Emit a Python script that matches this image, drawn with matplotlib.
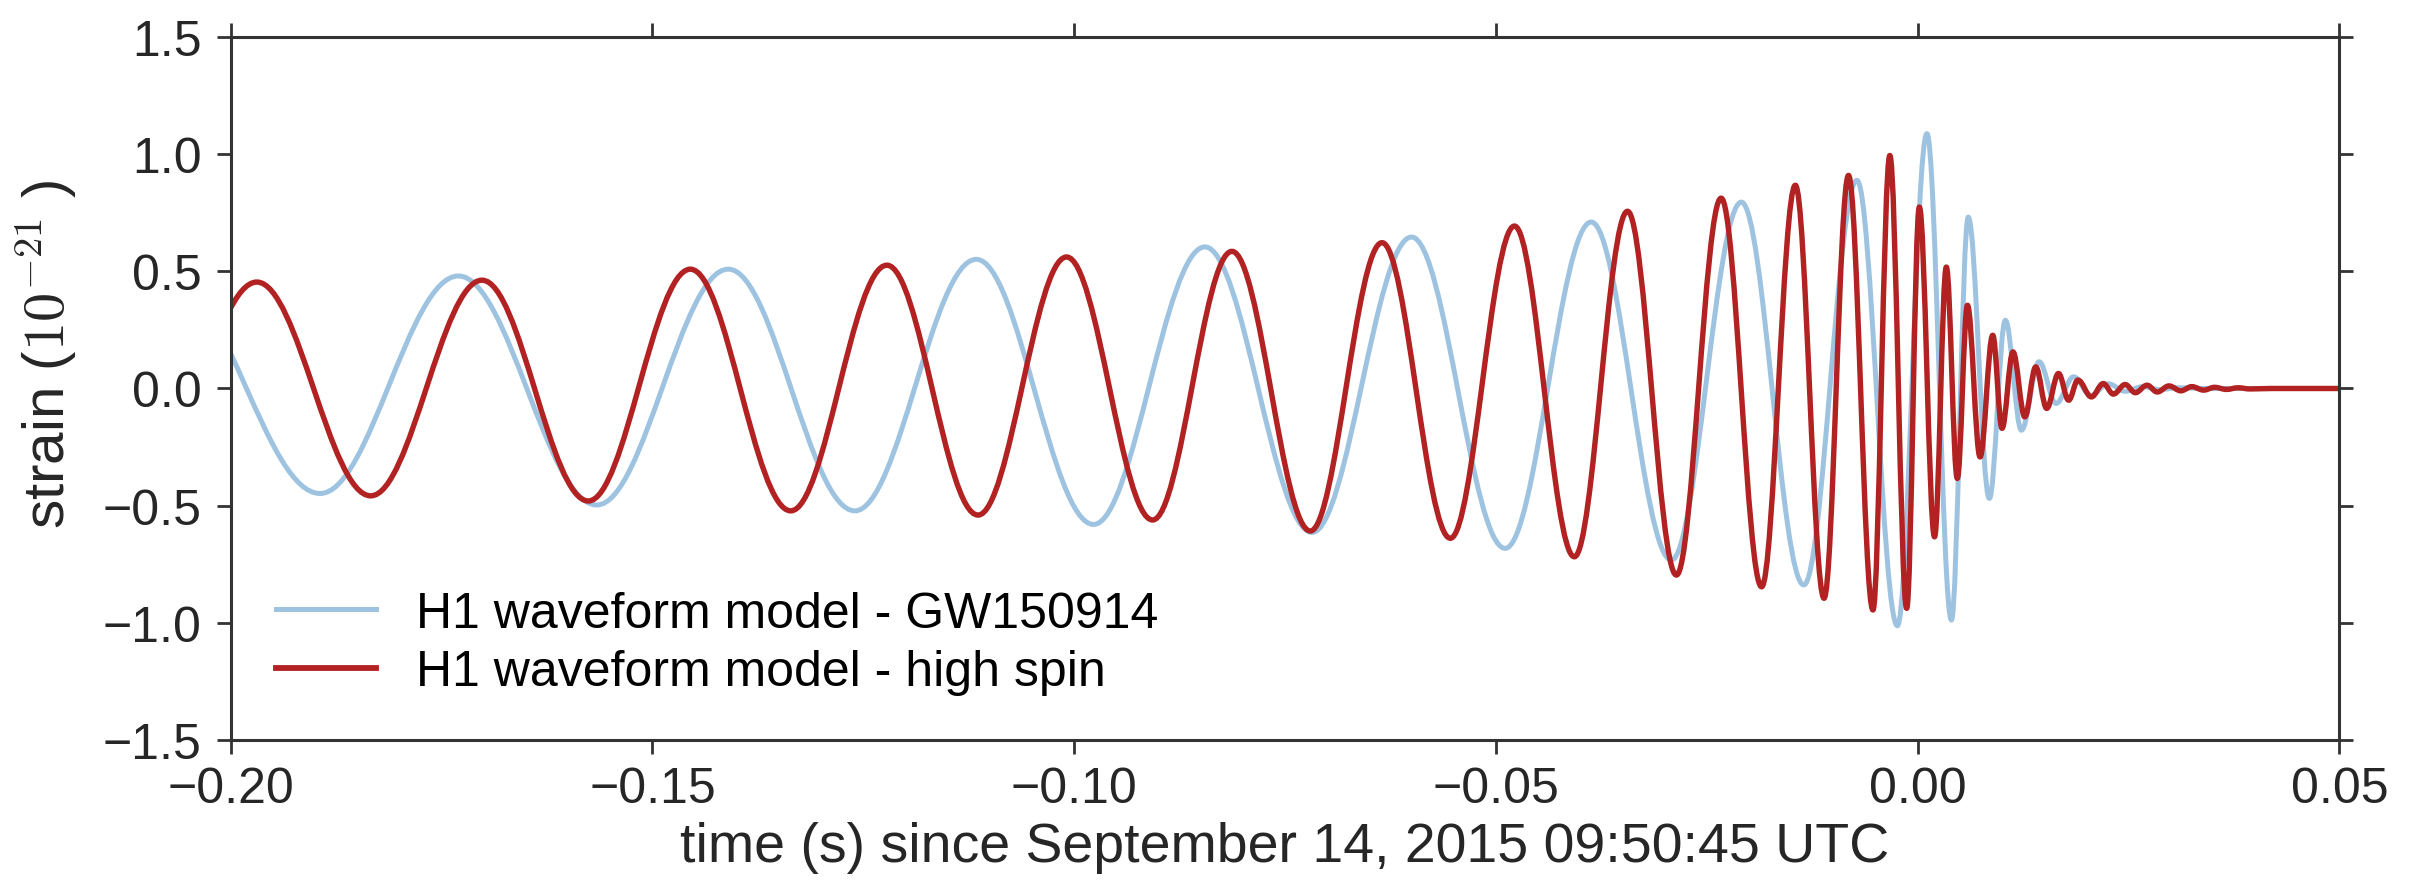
""" Chirp waveforms: GW150914 model vs high spin model, drawn from read-off extrema. """
import matplotlib
matplotlib.use('Agg')
from matplotlib import pyplot as plt
from matplotlib.path import Path
from matplotlib.patches import PathPatch

plt.rcParams['font.family'] = ['Liberation Sans', 'DejaVu Sans']
plt.rcParams['mathtext.fontset'] = 'cm'

# Extrema (time in s, strain in 1e-21).
# First point of each series sits just left of the visible window.
blue_t = [-0.2070, -0.1894, -0.1730, -0.1566, -0.1410, -0.1260, -0.1116, -0.0977,
          -0.0845, -0.0718, -0.0600, -0.0489, -0.0387, -0.0292, -0.0209, -0.0135,
          -0.0072, -0.0024, 0.0011, 0.0040, 0.0060, 0.0085, 0.0104, 0.0123,
          0.0144, 0.0164, 0.0185, 0.0205, 0.0226, 0.0246, 0.0267, 0.0287,
          0.0308, 0.0340, 0.0500]
blue_h = [0.460, -0.448, 0.480, -0.497, 0.509, -0.522, 0.551, -0.580,
          0.604, -0.614, 0.646, -0.682, 0.710, -0.732, 0.795, -0.838,
          0.888, -1.012, 1.087, -0.988, 0.731, -0.469, 0.291, -0.178,
          0.114, -0.064, 0.050, -0.030, 0.020, -0.012, 0.008, -0.005,
          0.003, 0.000, 0.000]

red_t = [-0.2105, -0.1969, -0.1834, -0.1702, -0.1576, -0.1455, -0.1336, -0.1222,
         -0.1114, -0.1009, -0.0907, -0.0813, -0.0720, -0.0635, -0.0554, -0.0478,
         -0.0407, -0.0344, -0.0286, -0.0233, -0.0185, -0.0145, -0.0111, -0.0082,
         -0.0053, -0.0033, -0.0013, 0.0002, 0.0020, 0.0034, 0.0047, 0.0059,
         0.0074, 0.0089, 0.0100, 0.0113, 0.0127, 0.0140, 0.0153, 0.0167,
         0.0179, 0.0190, 0.0206, 0.0220, 0.0232, 0.0246, 0.0258, 0.0272,
         0.0284, 0.0298, 0.0312, 0.0325, 0.0339, 0.0352, 0.0366, 0.0380,
         0.0394, 0.0420, 0.0500]
red_h = [-0.440, 0.454, -0.458, 0.462, -0.480, 0.509, -0.522, 0.526,
         -0.540, 0.561, -0.561, 0.585, -0.608, 0.622, -0.639, 0.693,
         -0.718, 0.756, -0.796, 0.812, -0.846, 0.867, -0.895, 0.909,
         -0.945, 0.994, -0.938, 0.774, -0.633, 0.518, -0.384, 0.355,
         -0.292, 0.227, -0.170, 0.156, -0.121, 0.092, -0.085, 0.064,
         -0.050, 0.036, -0.036, 0.021, -0.024, 0.017, -0.018, 0.014,
         -0.015, 0.011, -0.010, 0.008, -0.007, 0.005, -0.004, 0.003,
         -0.002, 0.000, 0.000]

labels = ['H1 waveform model - GW150914', 'H1 waveform model - high spin']
x_ticks = [-0.20, -0.15, -0.10, -0.05, 0.00, 0.05]
y_ticks = [-1.5, -1.0, -0.5, 0.0, 0.5, 1.0, 1.5]

blue = '#9ec3e1'
red = '#b22222'
dark = '#333333'


def wave_path(ts, hs):
    """ Cubic Bezier half-cycles between successive extrema (flat tangents). """
    k = 0.3634
    verts = [(ts[0], hs[0])]
    codes = [Path.MOVETO]
    for i in range(1, len(ts)):
        dt = ts[i] - ts[i - 1]
        verts += [(ts[i - 1] + k * dt, hs[i - 1]), (ts[i] - k * dt, hs[i]), (ts[i], hs[i])]
        codes += [Path.CURVE4] * 3
    return Path(verts, codes)


fig, ax = plt.subplots(figsize=(24.13, 8.87), dpi=100)
fig.subplots_adjust(left=0.0956, right=0.9695, top=0.9573, bottom=0.1645)

ax.add_patch(PathPatch(wave_path(blue_t, blue_h), fill=False, edgecolor=blue,
                       lw=3.6, joinstyle='round', capstyle='round'))
ax.add_patch(PathPatch(wave_path(red_t, red_h), fill=False, edgecolor=red,
                       lw=3.9, joinstyle='round', capstyle='round'))

ax.set_xlim(-0.20, 0.05)
ax.set_ylim(-1.5, 1.5)
ax.set_xticks(x_ticks)
ax.set_yticks(y_ticks)

for side in ax.spines:
    ax.spines[side].set_color(dark)
    ax.spines[side].set_linewidth(2.2)
ax.tick_params(axis='both', which='major', direction='out', length=10, width=2,
               color=dark, labelcolor='#262626', labelsize=36,
               top=True, right=True, labeltop=False, labelright=False)
ax.tick_params(axis='x', pad=9)
ax.tick_params(axis='y', pad=11)

ax.set_xlabel('time (s) since September 14, 2015 09:50:45 UTC', fontsize=40, color='#262626')
ax.set_ylabel(r'strain ($10^{-21}$ )', fontsize=42, color='#262626')
ax.xaxis.set_label_coords(0.5, -0.115)
ax.yaxis.set_label_coords(-0.072, 0.55)

# Proxy lines for the legend.
h_blue, = ax.plot([], [], color=blue, lw=3.6)
h_red, = ax.plot([], [], color=red, lw=4.2)
ax.legend([h_blue, h_red], labels, loc='lower left', frameon=False, fontsize=36,
          handlelength=2.0, handletextpad=0.8, labelspacing=0.25)

plt.savefig('out.png', dpi=100)
